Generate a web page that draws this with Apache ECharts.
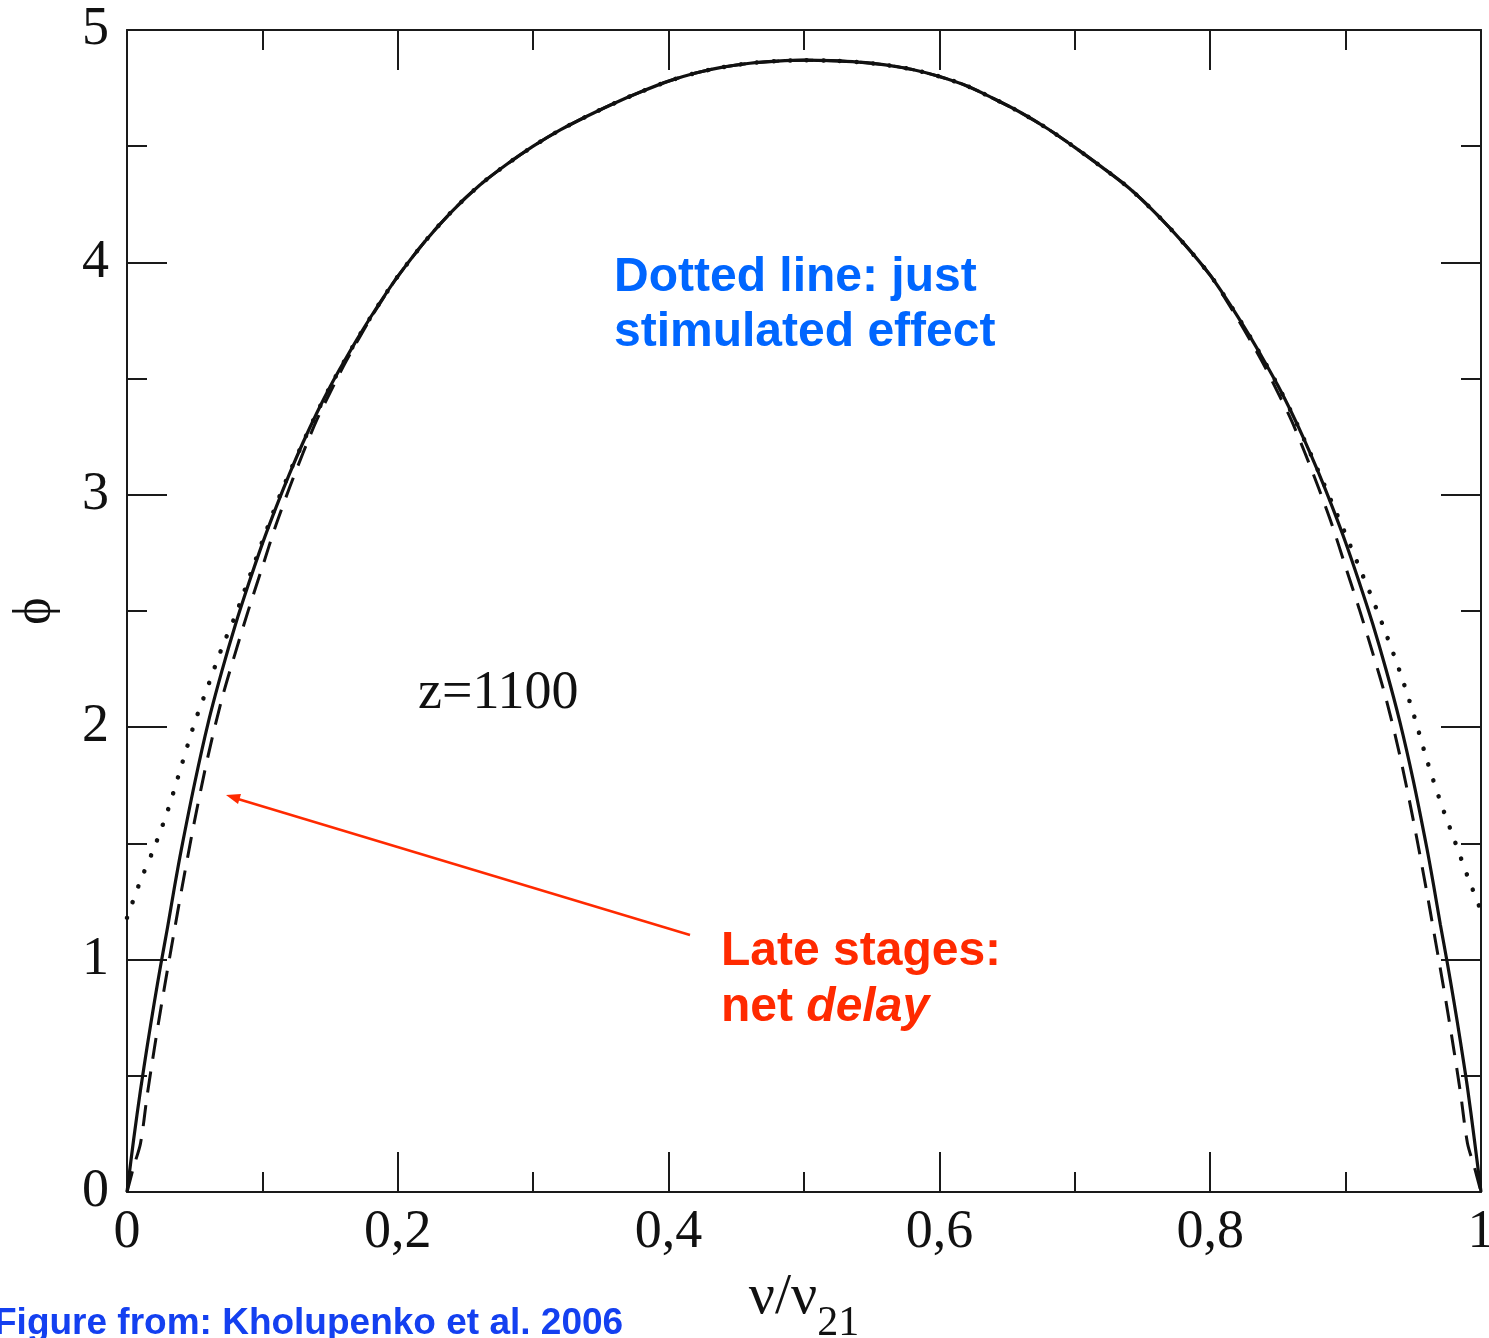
<!DOCTYPE html>
<html>
<head>
<meta charset="utf-8">
<script src="https://cdn.jsdelivr.net/npm/echarts@6/dist/echarts.min.js"></script>
<style>
html,body{margin:0;padding:0;background:#fff;}
#c{width:1489px;height:1338px;}
</style>
</head>
<body>
<div id="c"></div>
<script>
// x = nu/nu21, y = phi
const solidX = [0,0.005,0.01,0.015,0.02,0.025,0.03,0.035,0.04,0.05,0.06,0.07,0.08,0.09,0.10,0.11,0.12,0.13,0.14,0.15,0.16,0.17,0.18,0.19,0.20,0.22,0.24,0.26,0.28,0.30,0.32,0.34,0.36,0.38,0.40,0.42,0.44,0.46,0.48,0.50,0.52,0.54,0.56,0.58,0.60,0.62,0.64,0.66,0.68,0.70,0.72,0.74,0.76,0.78,0.80,0.81,0.82,0.83,0.84,0.85,0.86,0.87,0.88,0.89,0.90,0.91,0.92,0.93,0.94,0.95,0.96,0.965,0.97,0.975,0.98,0.985,0.99,0.995,1.0];
const solidY = [0,0.23,0.44,0.63,0.81,0.98,1.14,1.31,1.47,1.76,2.02,2.24,2.44,2.62,2.79,2.945,3.09,3.225,3.35,3.465,3.57,3.67,3.765,3.855,3.94,4.09,4.22,4.33,4.42,4.50,4.57,4.63,4.685,4.735,4.78,4.815,4.84,4.857,4.866,4.87,4.868,4.862,4.85,4.83,4.80,4.76,4.705,4.645,4.575,4.495,4.41,4.32,4.21,4.085,3.945,3.86,3.77,3.675,3.575,3.47,3.355,3.23,3.095,2.95,2.795,2.625,2.445,2.245,2.025,1.77,1.48,1.32,1.15,0.99,0.82,0.64,0.45,0.23,0];

const dashX = [0,0.005,0.01,0.015,0.02,0.025,0.03,0.035,0.04,0.05,0.06,0.07,0.08,0.09,0.10,0.11,0.12,0.13,0.14,0.15,0.16,0.17,0.18,0.19,0.20,0.22,0.24,0.26,0.28,0.30,0.32,0.34,0.36,0.38,0.40,0.42,0.44,0.46,0.48,0.50,0.52,0.54,0.56,0.58,0.60,0.62,0.64,0.66,0.68,0.70,0.72,0.74,0.76,0.78,0.80,0.81,0.82,0.83,0.84,0.85,0.86,0.87,0.88,0.89,0.90,0.91,0.92,0.93,0.94,0.95,0.96,0.965,0.97,0.975,0.98,0.985,0.99,0.995,1.0];
const dashY = [0,0.11,0.21,0.42,0.61,0.79,0.96,1.125,1.29,1.60,1.88,2.12,2.32,2.51,2.69,2.87,3.03,3.18,3.32,3.44,3.555,3.66,3.76,3.853,3.94,4.09,4.22,4.33,4.42,4.50,4.57,4.63,4.685,4.735,4.78,4.815,4.84,4.857,4.866,4.87,4.868,4.862,4.85,4.83,4.80,4.76,4.705,4.645,4.575,4.495,4.41,4.32,4.21,4.085,3.945,3.855,3.76,3.66,3.555,3.44,3.32,3.18,3.03,2.87,2.69,2.51,2.32,2.12,1.88,1.60,1.29,1.125,0.96,0.79,0.61,0.42,0.21,0.11,0];

const dotX = [0,0.01,0.02,0.03,0.04,0.05,0.06,0.07,0.08,0.09,0.10,0.11,0.12,0.13,0.14,0.15,0.16,0.17,0.18,0.19,0.20,0.22,0.24,0.26,0.28,0.30,0.32,0.34,0.36,0.38,0.40,0.42,0.44,0.46,0.48,0.50,0.52,0.54,0.56,0.58,0.60,0.62,0.64,0.66,0.68,0.70,0.72,0.74,0.76,0.78,0.80,0.81,0.82,0.83,0.84,0.85,0.86,0.87,0.88,0.89,0.90,0.91,0.92,0.93,0.94,0.95,0.96,0.97,0.98,0.99,1.0];
const dotY = [1.18,1.34,1.48,1.64,1.83,2.02,2.18,2.34,2.48,2.64,2.80,2.955,3.095,3.225,3.35,3.465,3.57,3.67,3.765,3.855,3.94,4.09,4.22,4.33,4.42,4.50,4.57,4.63,4.685,4.735,4.78,4.815,4.84,4.857,4.866,4.87,4.868,4.862,4.85,4.83,4.80,4.76,4.705,4.645,4.575,4.495,4.41,4.32,4.21,4.085,3.945,3.86,3.77,3.675,3.575,3.47,3.355,3.23,3.10,2.965,2.83,2.69,2.55,2.40,2.24,2.06,1.86,1.68,1.52,1.36,1.21];

const xTickLabels = {0:'0',0.2:'0,2',0.4:'0,4',0.6:'0,6',0.8:'0,8',1:'1'};
const yTickLabels = {0:'0',1:'1',2:'2',3:'3',4:'4',5:'5'};

const zip = (xs, ys) => xs.map((x, i) => [x, ys[i]]);

const serif = 'Liberation Serif, Times New Roman, serif';
const sans = 'Liberation Sans, Arial, Helvetica, sans-serif';
const axisColor = '#1a1a1a';

function xAxisCfg(pos, showLabels) {
  return {
    type: 'value', position: pos, min: 0, max: 1, interval: 0.2,
    axisLine: {show: true, onZero: false, lineStyle: {color: axisColor, width: 2}},
    axisTick: {show: true, inside: true, length: 40, lineStyle: {color: axisColor, width: 2}},
    minorTick: {show: true, splitNumber: 2, length: 20, lineStyle: {color: axisColor, width: 2}},
    splitLine: {show: false}, minorSplitLine: {show: false},
    axisLabel: {show: showLabels, margin: 14, color: '#111', fontFamily: serif, fontSize: 54,
      formatter: v => { const k = Math.round(v*10)/10; return xTickLabels[k] !== undefined ? xTickLabels[k] : ''; }},
  };
}
function yAxisCfg(pos, showLabels) {
  return {
    type: 'value', position: pos, min: 0, max: 5, interval: 1,
    axisLine: {show: true, onZero: false, lineStyle: {color: axisColor, width: 2}},
    axisTick: {show: true, inside: true, length: 40, lineStyle: {color: axisColor, width: 2}},
    minorTick: {show: true, splitNumber: 2, length: 20, lineStyle: {color: axisColor, width: 2}},
    splitLine: {show: false}, minorSplitLine: {show: false},
    axisLabel: {show: showLabels, margin: 18, color: '#111', fontFamily: serif, fontSize: 54,
      formatter: v => yTickLabels[Math.round(v)] !== undefined ? yTickLabels[Math.round(v)] : ''},
  };
}

const xMain = xAxisCfg('bottom', true);
xMain.name = '{m|ν/ν}{sub|21}';
xMain.nameLocation = 'middle';
xMain.nameGap = 77;
xMain.nameTextStyle = {color: '#111', fontFamily: serif, fontSize: 56,
  rich: {
    m: {fontFamily: serif, fontSize: 58, color: '#111', verticalAlign: 'top', lineHeight: 60},
    sub: {fontFamily: serif, fontSize: 42, color: '#111', verticalAlign: 'top', lineHeight: 42, padding: [34, 0, 0, 0]}
  }};
const yMain = yAxisCfg('left', true);
yMain.name = 'ϕ';
yMain.nameLocation = 'middle';
yMain.nameRotate = 90;
yMain.nameGap = 66;
yMain.nameTextStyle = {color: '#111', fontFamily: serif, fontSize: 52};

const chart = echarts.init(document.getElementById('c'), null, {renderer: 'canvas'});
chart.setOption({
  backgroundColor: '#fff',
  animation: false,
  grid: {left: 127, right: 8, top: 30, bottom: 146, containLabel: false, outerBoundsMode: 'none'},
  xAxis: [xMain, xAxisCfg('top', false)],
  yAxis: [yMain, yAxisCfg('right', false)],
  series: [
    {type: 'line', xAxisIndex: 0, yAxisIndex: 0, data: zip(dotX, dotY), showSymbol: false, smooth: 0.3,
      lineStyle: {color: '#111', width: 4.5, type: [0.1, 16.5], cap: 'round'}, z: 3},
    {type: 'line', xAxisIndex: 0, yAxisIndex: 0, data: zip(dashX, dashY), showSymbol: false, smooth: 0.3,
      lineStyle: {color: '#111', width: 3, type: [21, 13]}, z: 4},
    {type: 'line', xAxisIndex: 0, yAxisIndex: 0, data: zip(solidX, solidY), showSymbol: false, smooth: 0.3,
      lineStyle: {color: '#111', width: 3.2, type: 'solid'}, z: 5},
  ],
  graphic: [
    {type: 'text', left: 614, top: 250, z: 10,
      style: {text: 'Dotted line: just\nstimulated effect', fill: '#0066ff', font: 'bold 48px ' + sans, lineHeight: 55}},
    {type: 'text', left: 418, top: 667, z: 10,
      style: {text: 'z=1100', fill: '#111', font: '54px ' + serif}},
    {type: 'text', left: 721, top: 924, z: 10,
      style: {text: 'Late stages:\nnet {i|delay}', fill: '#ff2a00', font: 'bold 48px ' + sans, lineHeight: 56,
        rich: {i: {fontStyle: 'italic', fontWeight: 'bold', fontSize: 48, fontFamily: sans, fill: '#ff2a00', color: '#ff2a00'}}}},
    {type: 'text', left: -6, top: 1305, z: 10,
      style: {text: 'Figure from: Kholupenko et al. 2006', fill: '#1440f0', font: 'bold 37px ' + sans}},
    {type: 'line', z: 10, shape: {x1: 690, y1: 935, x2: 238, y2: 799},
      style: {stroke: '#ff2a00', lineWidth: 2.5}},
    {type: 'polygon', z: 10, shape: {points: [[226, 795], [238, 804], [241, 794]]},
      style: {fill: '#ff2a00'}},
  ],
});
</script>
</body>
</html>
